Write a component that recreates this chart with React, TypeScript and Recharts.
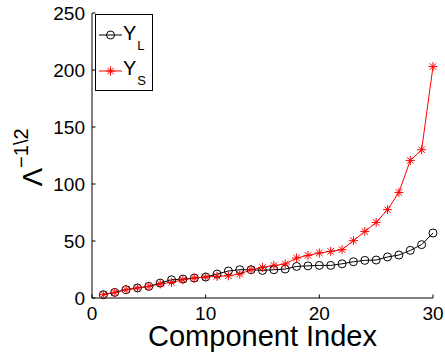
import { LineChart, Line, XAxis, YAxis, Legend } from 'recharts';

const componentIndex = [
  1, 2, 3, 4, 5, 6, 7, 8, 9, 10, 11, 12, 13, 14, 15,
  16, 17, 18, 19, 20, 21, 22, 23, 24, 25, 26, 27, 28, 29, 30,
];
const yL = [
  2.9, 4.9, 7.3, 8.8, 10.2, 13.1, 16.0, 16.6, 17.5, 18.4, 21.0, 23.7, 24.8, 24.8, 24.2,
  24.8, 25.4, 27.7, 28.2, 28.6, 28.6, 30.0, 31.8, 33.0, 33.3, 36.0, 37.7, 41.8, 46.8, 57.0,
];
const yS = [
  2.9, 4.9, 7.3, 8.8, 10.2, 12.3, 13.7, 16.0, 17.5, 18.4, 19.0, 19.5, 21.0, 24.8, 26.8,
  28.6, 29.8, 35.1, 37.4, 39.5, 40.9, 42.4, 50.3, 58.4, 66.3, 77.5, 92.6, 120.7, 130.0, 203.0,
];
const xTicks = [0, 10, 20, 30];
const yTicks = [0, 50, 100, 150, 200, 250];

const data = componentIndex.map((idx, i) => ({ idx, yL: yL[i], yS: yS[i] }));

const FONT = '"Liberation Sans", Arial, sans-serif';
const TICK = 3.5;

const BottomTick = ({ x, y, payload }: any) => (
  <g>
    <line x1={x} x2={x} y1={y} y2={y - TICK} stroke="#000" />
    <text x={x} y={y + 22} textAnchor="middle" fontSize={19} fontFamily={FONT} fill="#000">
      {payload.value}
    </text>
  </g>
);

const TopTick = ({ x, y }: any) => (
  <line x1={x} x2={x} y1={y} y2={y + TICK} stroke="#000" />
);

const LeftTick = ({ x, y, payload }: any) => (
  <g>
    <line x1={x} x2={x + TICK} y1={y} y2={y} stroke="#000" />
    <text x={x - 7} y={y + 6.7} textAnchor="end" fontSize={19} fontFamily={FONT} fill="#000">
      {payload.value}
    </text>
  </g>
);

const RightTick = ({ x, y }: any) => (
  <line x1={x} x2={x - TICK} y1={y} y2={y} stroke="#000" />
);

const Circle = ({ cx, cy, index }: any) => (
  <circle key={`c${index}`} cx={cx} cy={cy} r={4} fill="none" stroke="#000" strokeWidth={1} />
);

const Star = ({ cx, cy, index }: any) => {
  const a = 4.5;
  const d = 3.2;
  return (
    <g key={`s${index}`} stroke="#ff0000" strokeWidth={1}>
      <line x1={cx - a} x2={cx + a} y1={cy} y2={cy} />
      <line x1={cx} x2={cx} y1={cy - a} y2={cy + a} />
      <line x1={cx - d} x2={cx + d} y1={cy - d} y2={cy + d} />
      <line x1={cx - d} x2={cx + d} y1={cy + d} y2={cy - d} />
    </g>
  );
};

const renderLegend = () => (
  <svg width={58} height={77} style={{ display: 'block' }}>
    <rect x={0.5} y={0.5} width={57} height={76} fill="#fff" stroke="#000" />
    <line x1={4} x2={27} y1={21} y2={21} stroke="#000" />
    <Circle cx={15.5} cy={21} index={0} />
    <text x={28} y={25.5} fontSize={20} fontFamily={FONT} fill="#000">
      Y<tspan fontSize={13} dx={1} dy={10}>L</tspan>
    </text>
    <line x1={4} x2={27} y1={57} y2={57} stroke="#ff0000" />
    <Star cx={15.5} cy={57} index={0} />
    <text x={28} y={61} fontSize={20} fontFamily={FONT} fill="#000">
      Y<tspan fontSize={13} dx={1} dy={10}>S</tspan>
    </text>
  </svg>
);

const XLabel = ({ viewBox }: any) => (
  <text
    x={viewBox.x + viewBox.width / 2}
    y={viewBox.y + 48}
    textAnchor="middle"
    fontSize={29}
    fontFamily={FONT}
    fill="#000"
  >
    Component Index
  </text>
);

const YLabel = ({ viewBox }: any) => {
  const x = 41.7;
  const y = viewBox.y + viewBox.height / 2 + 2;
  return (
    <text
      x={x}
      y={y}
      transform={`rotate(-90, ${x}, ${y})`}
      textAnchor="middle"
      fontSize={28}
      fontFamily={FONT}
      fill="#000"
    >
      Λ<tspan fontSize={20} dy={-14}>−1\2</tspan>
    </text>
  );
};

export default function App() {
  return (
    <div style={{ position: 'absolute', left: 0, top: 0, background: '#fff', fontFamily: FONT }}>
      <LineChart width={445} height={356} data={data} margin={{ top: 13, right: 12, bottom: 0, left: 0 }}>
        <XAxis
          dataKey="idx"
          type="number"
          domain={[0, 30]}
          ticks={xTicks}
          interval={0}
          height={58}
          tickSize={0}
          tickMargin={0}
          tickLine={false}
          tick={BottomTick}
          axisLine={{ stroke: '#000' }}
          label={{ content: XLabel }}
        />
        <XAxis
          xAxisId="top"
          orientation="top"
          dataKey="idx"
          type="number"
          domain={[0, 30]}
          ticks={xTicks}
          interval={0}
          height={0}
          tickSize={0}
          tickMargin={0}
          tickLine={false}
          tick={TopTick}
          axisLine={{ stroke: '#000' }}
        />
        <YAxis
          type="number"
          domain={[0, 250]}
          ticks={yTicks}
          interval={0}
          width={92}
          tickSize={0}
          tickMargin={0}
          tickLine={false}
          tick={LeftTick}
          axisLine={{ stroke: '#000' }}
          label={{ content: YLabel }}
        />
        <YAxis
          yAxisId="right"
          orientation="right"
          type="number"
          domain={[0, 250]}
          ticks={yTicks}
          interval={0}
          width={0}
          tickSize={0}
          tickMargin={0}
          tickLine={false}
          tick={RightTick}
          axisLine={{ stroke: '#000' }}
        />
        <Legend
          layout="vertical"
          align="center"
          verticalAlign="middle"
          content={renderLegend}
          wrapperStyle={{ left: 95, top: 14, width: 58, height: 77 }}
        />
        <Line
          dataKey="yL"
          stroke="#000"
          strokeWidth={1}
          dot={Circle}
          activeDot={false}
          isAnimationActive={false}
        />
        <Line
          dataKey="yS"
          stroke="#ff0000"
          strokeWidth={1}
          dot={Star}
          activeDot={false}
          isAnimationActive={false}
        />
      </LineChart>
    </div>
  );
}
